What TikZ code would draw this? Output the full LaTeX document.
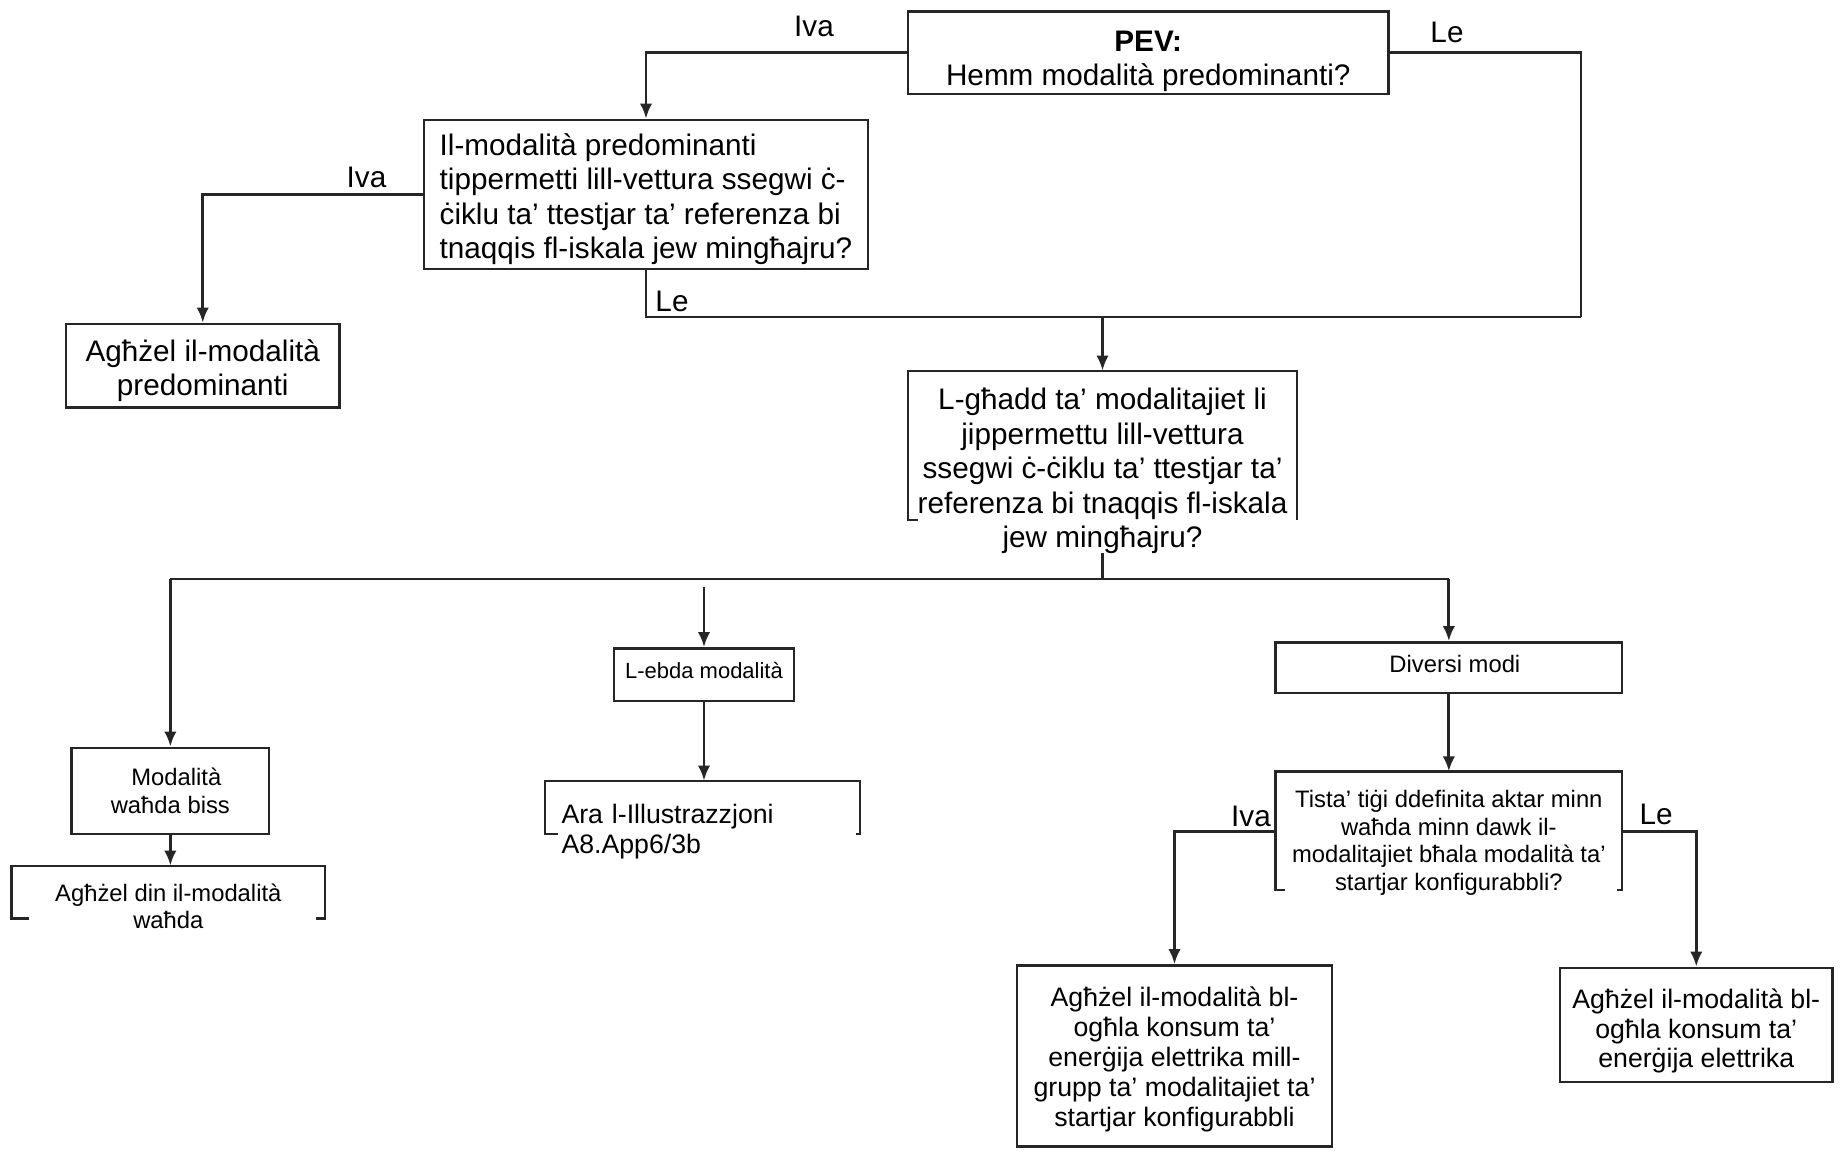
\documentclass[tikz,border=0pt]{standalone}
\usepackage{fontspec}
\setmainfont{Liberation Sans}
\usetikzlibrary{arrows.meta,calc}
\newcommand\fA{\fontsize{14.85pt}{17.2pt}\selectfont}
\newcommand\fB{\fontsize{13.35pt}{14.9pt}\selectfont}
\newcommand\fC{\fontsize{11.9pt}{13.7pt}\selectfont}
\newcommand\fD{\fontsize{11pt}{13pt}\selectfont}
\newcommand\hstr[1]{\rule{0pt}{#1}}
\newcommand\dstr[1]{\rule[-#1]{0pt}{#1}}
\begin{document}
\begin{tikzpicture}[x=0.5pt,y=-0.5pt,
  ln/.style={line width=1.4pt, draw=black!85},
  arr/.style={ln,-{Latex[length=7.5pt,width=6.2pt]}},
  bx/.style={draw=black!85, line width=1.4pt, inner sep=0pt, align=center},
  nb/.style={inner sep=0pt, align=center},
  lab/.style={inner sep=0pt, font=\fA}]
\useasboundingbox (0,0) rectangle (1842,1157);

% nodes
\node[bx, font=\fA, minimum width=240.25pt, minimum height=41.15pt] (pev) at (1148.25,52.85) {\hstr{18.8pt}\textbf{PEV:}\\ Hemm modalità predominanti?};
\node[bx, font=\fA, align=left, minimum width=222pt, minimum height=74.5pt] (il) at (646,194.5) {\hstr{15.6pt}Il-modalità predominanti\\ tippermetti lill-vettura ssegwi ċ-\\ ċiklu ta’ ttestjar ta’ referenza bi\\ tnaqqis fl-iskala jew mingħajru?};
\node[bx, font=\fA, minimum width=136.75pt, minimum height=41.8pt] (ag1) at (202.75,365.8) {\hstr{15.6pt}Agħżel il-modalità\\ predominanti};
\node[nb, font=\fA, minimum width=194.5pt, minimum height=96.5pt] (lg) at (1102.5,467.5) {\hstr{14.3pt}L-għadd ta’ modalitajiet li\\ jippermettu lill-vettura\\ ssegwi ċ-ċiklu ta’ ttestjar ta’\\ referenza bi tnaqqis fl-iskala\\ jew mingħajru?};
\node[bx, font=\fC, minimum width=98.65pt, minimum height=43pt] (mod) at (170.35,791) {\hspace*{6pt}Modalità\\ waħda biss};
\node[nb, font=\fC, minimum width=156.65pt, minimum height=40.5pt] (agdin) at (168.35,906.5) {Agħżel din il-modalità\\ waħda};
\node[bx, font=\fD, minimum width=90pt, minimum height=26.25pt] (leb) at (704,674.75) {L-ebda modalità\dstr{4.7pt}};
\node[nb, font=\fB, align=left, text width=141pt, inner xsep=8.25pt, minimum height=47.5pt] (ara) at (702.5,828.5) {\hstr{12.6pt}Ara l-Illustrazzjoni\\ A8.App6/3b};
\node[bx, font=\fC, minimum width=173.15pt, minimum height=25.25pt] (div) at (1448.85,667.75) {\hspace*{6pt}Diversi modi\dstr{3.5pt}};
\node[nb, font=\fC, minimum width=173.15pt, minimum height=68.2pt] (tista) at (1448.85,840) {\hstr{11.5pt}Tista’ tiġi ddefinita aktar minn\\ waħda minn dawk il-\\ modalitajiet bħala modalità ta’\\ startjar konfigurabbli?};
\node[bx, font=\fB, minimum width=157.5pt, minimum height=90.45pt] (bA) at (1174.5,1056) {\hstr{13.3pt}Agħżel il-modalità bl-\\ ogħla konsum ta’\\ enerġija elettrika mill-\\ grupp ta’ modalitajiet ta’\\ startjar konfigurabbli};
\node[bx, font=\fB, minimum width=136.25pt, minimum height=57pt] (bB) at (1696.25,1025) {\hstr{15.8pt}Agħżel il-modalità bl-\\ ogħla konsum ta’\\ enerġija elettrika};

% partial borders (as printed)
\draw[ln] (918,520) -- (908,520) -- (908,371) -- (1297,371) -- (1297,520);
\draw[ln] (29,918.6) -- (11.7,918.6) -- (11.7,866) -- (325,866) -- (325,918.6) -- (316,918.6);
\draw[ln] (558,834) -- (545,834) -- (545,781) -- (860,781) -- (860,834) -- (856,834);
\draw[ln] (1285,890) -- (1275.7,890) -- (1275.7,771.8) -- (1622,771.8) -- (1622,890) -- (1617,890);

% labels
\node[lab] (l1) at (814,26) {Iva};
\node[lab] (l2) at (1447,32) {Le};
\node[lab] (l3) at (366.5,177) {Iva};
\node[lab] (l4) at (672,301) {Le};
\node[lab] (l5) at (1251,816) {Iva};
\node[lab] (l6) at (1656,814) {Le};

% junctions
\coordinate (jTR) at (1581,317);
\coordinate (jL) at (170.35,579);
\coordinate (jR) at (1448.85,579);
\coordinate (jM) at (704,587);

% connectors
\draw[arr] (pev.west) -| (il.north);
\draw[ln] (pev.east) -| (jTR);
\draw[ln] (il.south) |- (jTR);
\draw[arr] (lg.north |- jTR) -- (lg.north);
\draw[arr] (il.west) -| (ag1.north);
\draw[ln] ([yshift=5.5pt]lg.south) -- (lg.south |- jL);
\draw[ln] (jL) -- (jR);
\draw[arr] (jL) -- (mod.north);
\draw[arr] (jR) -- (div.north);
\draw[arr] (jM) -- (leb.north);
\draw[arr] (leb.south) -- (leb.south |- ara.north);
\draw[arr] (mod.south) -- (mod.south |- agdin.north);
\draw[arr] (div.south) -- (tista.north);
\draw[arr] ([yshift=4.15pt]tista.west) -| (bA.north);
\draw[arr] ([yshift=4.15pt]tista.east) -| (bB.north);
\end{tikzpicture}
\end{document}
